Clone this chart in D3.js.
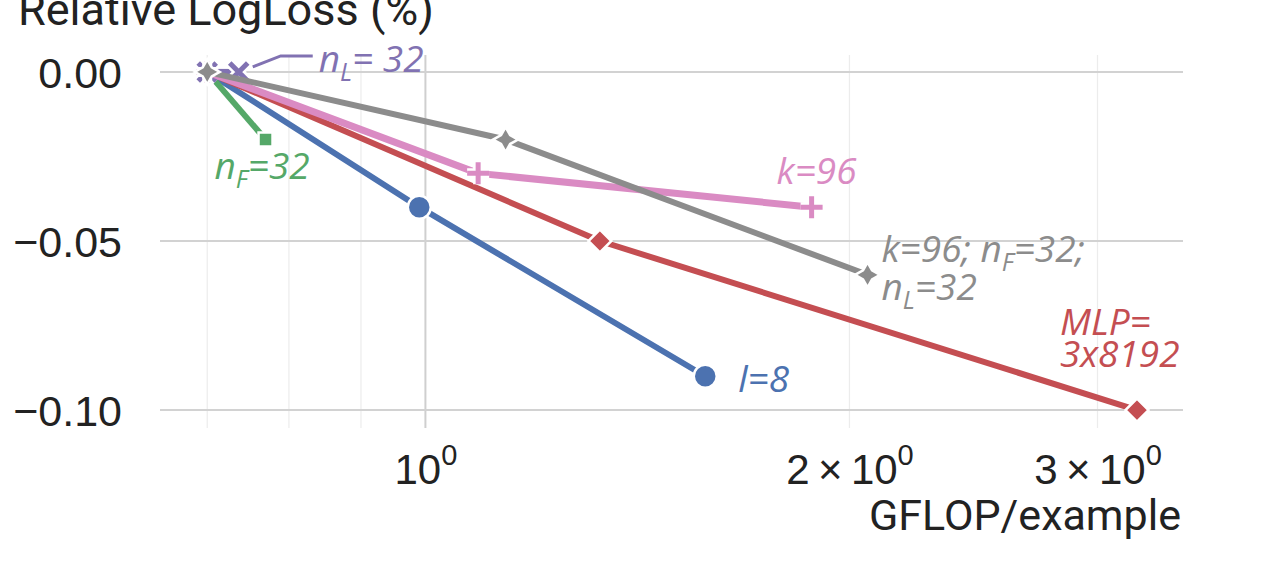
<!DOCTYPE html>
<html>
<head>
<meta charset="utf-8">
<script src="https://cdn.jsdelivr.net/npm/d3@7/dist/d3.min.js"></script>
<style>
  body { margin: 0; background: #fff; }
  svg { display: block; }
</style>
</head>
<body>
<div id="chart"></div>
<script>
// --- data ---
var seriesNames = ['l=8', 'MLP=3x8192', 'nF=32', 'nL=32', 'k=96', 'combined'];
var blueX   = [0.70, 0.99, 1.58],  blueY   = [0, -0.04, -0.09];
var redX    = [0.70, 1.33, 3.20],  redY    = [0, -0.05, -0.10];
var greenX  = [0.70, 0.77],        greenY  = [0, -0.02];
var purpleX = [0.70, 0.737],       purpleY = [0, 0];
var pinkX   = [0.70, 1.09, 1.88],  pinkY   = [0, -0.03, -0.04];
var grayX   = [0.70, 1.14, 2.06],  grayY   = [0, -0.02, -0.06];
var yTicks = [0, -0.05, -0.10];
var xMajorTicks = [1, 2, 3];
var xMinorTicks = [0.7, 0.8, 0.9];

var W = 1275, H = 565;
var m = { left: 160, right: 1183, top: 55, bottom: 428 };

var svg = d3.select('#chart').append('svg')
  .attr('width', W).attr('height', H)
  .style('font-family', 'Roboto, sans-serif');

var x = d3.scaleLog().domain([0.648, 3.45]).range([m.left, m.right]);
var y = d3.scaleLinear().domain([-0.1053, 0.005]).range([m.bottom, m.top]);

// grid
var grid = svg.append('g');
grid.selectAll('.minor').data(xMinorTicks).enter().append('line')
  .attr('x1', function(d){ return x(d); }).attr('x2', function(d){ return x(d); })
  .attr('y1', m.top).attr('y2', m.bottom)
  .attr('stroke', '#ececec').attr('stroke-width', 1.2);
grid.selectAll('.major').data(xMajorTicks).enter().append('line')
  .attr('x1', function(d){ return x(d); }).attr('x2', function(d){ return x(d); })
  .attr('y1', m.top).attr('y2', m.bottom)
  .attr('stroke', function(d){ return d === 1 ? '#cfcfcf' : '#ececec'; })
  .attr('stroke-width', function(d){ return d === 1 ? 2 : 1.2; });
grid.selectAll('.hy').data(yTicks).enter().append('line')
  .attr('x1', m.left).attr('x2', m.right)
  .attr('y1', function(d){ return y(d); }).attr('y2', function(d){ return y(d); })
  .attr('stroke', '#d2d2d2').attr('stroke-width', 2);

// axes
var yAxis = svg.append('g').attr('transform', 'translate(' + (m.left - 35) + ',0)')
  .call(d3.axisLeft(y).tickValues(yTicks).tickSize(0)
    .tickFormat(function(d){ return d3.format('.2f')(d).replace('-', '\u2212'); }));
yAxis.select('.domain').remove();
yAxis.selectAll('text').attr('font-size', 43).attr('fill', '#222').attr('dy', '0.36em');

var xAxis = svg.append('g').attr('transform', 'translate(0,' + m.bottom + ')')
  .call(d3.axisBottom(x).tickValues(xMajorTicks).tickSize(0).tickFormat(''));
xAxis.select('.domain').remove();
xAxis.selectAll('.tick text').each(function(d){
  var t = d3.select(this).attr('y', 56).attr('dy', 0)
    .attr('font-size', 42).attr('fill', '#222').attr('text-anchor', 'middle');
  if (d !== 1) t.append('tspan').text(d + '\u2009\u00d7\u2009');
  t.append('tspan').text('10');
  t.append('tspan').attr('font-size', 29).attr('dy', -19).text('0');
});

svg.append('text').attr('x', 1181).attr('y', 530).attr('text-anchor', 'end')
  .attr('font-size', 43).attr('fill', '#222').text('GFLOP/example');
svg.append('text').attr('x', 18).attr('y', 25)
  .attr('font-size', 45).attr('fill', '#222').text('Relative LogLoss (%)');

// markers
function starPath(r){
  var a = r * 0.36;
  return 'M0,' + (-r) + 'L' + a + ',' + (-a) + 'L' + r + ',0L' + a + ',' + a +
    'L0,' + r + 'L' + (-a) + ',' + a + 'L' + (-r) + ',0L' + (-a) + ',' + (-a) + 'Z';
}
function diamondPath(r){ return 'M0,' + (-r) + 'L' + r + ',0L0,' + r + 'L' + (-r) + ',0Z'; }
function squarePath(r){ return 'M' + (-r) + ',' + (-r) + 'H' + r + 'V' + r + 'H' + (-r) + 'Z'; }
function circlePath(r){ return 'M' + r + ',0A' + r + ',' + r + ' 0 1,1 ' + (-r) + ',0A' + r + ',' + r + ' 0 1,1 ' + r + ',0Z'; }
function plusPath(r){ return 'M' + (-r) + ',0H' + r + 'M0,' + (-r) + 'V' + r; }
function xPath(r){ return 'M' + (-r) + ',' + (-r) + 'L' + r + ',' + r + 'M' + r + ',' + (-r) + 'L' + (-r) + ',' + r; }

var series = [
  { xs: blueX,   ys: blueY,   color: '#4c72b0', lw: 6,   shape: circlePath(11.5), fill: true },
  { xs: redX,    ys: redY,    color: '#c44e52', lw: 6,   shape: diamondPath(11.5), fill: true },
  { xs: greenX,  ys: greenY,  color: '#55a868', lw: 6,   shape: squarePath(7),    fill: true },
  { xs: purpleX, ys: purpleY, color: '#8172b2', lw: 6,   shape: xPath(9),         fill: false },
  { xs: pinkX,   ys: pinkY,   color: '#da8bc3', lw: 7,   shape: plusPath(11),     fill: false },
  { xs: grayX,   ys: grayY,   color: '#8c8c8c', lw: 6,   shape: starPath(12.5),   fill: true }
];

var line = d3.line().x(function(d){ return x(d[0]); }).y(function(d){ return y(d[1]); });

series.forEach(function(s){
  var pts = d3.zip(s.xs, s.ys);
  var g = svg.append('g');
  g.append('path').datum(pts).attr('d', line)
    .attr('fill', 'none').attr('stroke', s.color).attr('stroke-width', s.lw)
    .attr('stroke-linejoin', 'round');
  var mk = g.selectAll('.mk').data(pts).enter().append('g')
    .attr('transform', function(d){ return 'translate(' + x(d[0]) + ',' + y(d[1]) + ')'; });
  if (s.fill) {
    mk.append('path').attr('d', s.shape).attr('fill', s.color)
      .attr('stroke', '#fff').attr('stroke-width', 2.5).attr('stroke-linejoin', 'miter');
  } else {
    mk.append('path').attr('d', s.shape).attr('fill', 'none')
      .attr('stroke', '#fff').attr('stroke-width', 10);
    mk.append('path').attr('d', s.shape).attr('fill', 'none')
      .attr('stroke', s.color).attr('stroke-width', 5);
  }
});

// annotations
var ann = svg.append('g').attr('font-family', '"Open Sans", sans-serif')
  .attr('font-style', 'italic').attr('font-size', 37);

function label(px, py, color, parts){
  var t = ann.append('text').attr('x', px).attr('y', py).attr('fill', color);
  parts.forEach(function(p){
    if (p.sub) t.append('tspan').attr('font-size', 25).attr('dy', 9).text(p.sub);
    else t.append('tspan').attr('dy', p.back ? -9 : 0).text(p.t);
  });
  return t;
}

// purple
var pxp = x(purpleX[1]), pyp = y(purpleY[1]);
ann.append('path')
  .attr('d', 'M' + (pxp + 14) + ',' + (pyp - 5) + 'L' + (pxp + 42) + ',' + (pyp - 16) + 'H' + (pxp + 74))
  .attr('fill', 'none').attr('stroke', '#8172b2').attr('stroke-width', 3);
label(pxp + 80, pyp, '#8172b2', [{ t: 'n' }, { sub: 'L' }, { t: '= 32', back: true }]);
// green
label(x(greenX[1]) - 51, y(greenY[1]) + 39, '#55a868', [{ t: 'n' }, { sub: 'F' }, { t: '=32', back: true }]);
// blue
label(x(blueX[2]) + 33, y(blueY[2]) + 16, '#4c72b0', [{ t: 'l=8' }]);
// pink
label(x(pinkX[2]) - 35, y(pinkY[2]) - 23, '#da8bc3', [{ t: 'k=96' }]);
// gray
label(x(grayX[2]) + 14, y(grayY[2]) - 13, '#8c8c8c', [{ t: 'k=96; n' }, { sub: 'F' }, { t: '=32;', back: true }]);
label(x(grayX[2]) + 14, y(grayY[2]) + 25, '#8c8c8c', [{ t: 'n' }, { sub: 'L' }, { t: '=32', back: true }]);
// red
label(x(redX[2]) - 77, y(redY[2]) - 75, '#c44e52', [{ t: 'MLP=' }]);
label(x(redX[2]) - 77, y(redY[2]) - 43, '#c44e52', [{ t: '3x8192' }]);
</script>
</body>
</html>
